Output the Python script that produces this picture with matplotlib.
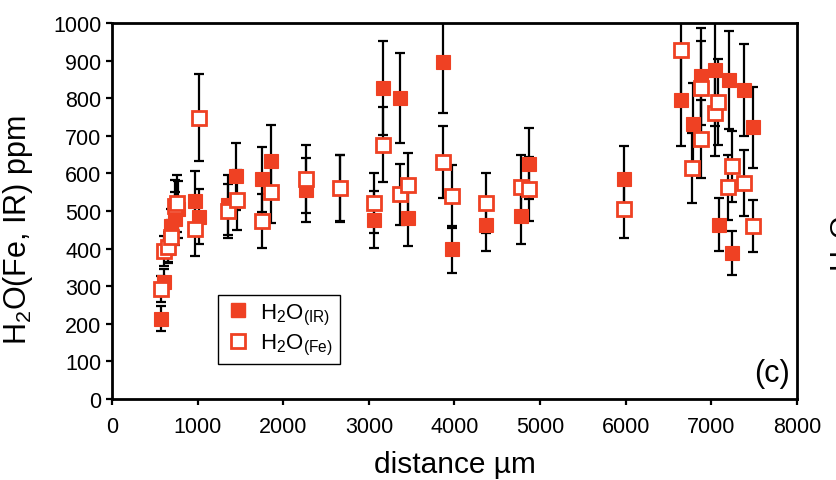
import matplotlib
matplotlib.use('Agg')
import matplotlib.pyplot as plt
from matplotlib.lines import Line2D

plt.rcParams['font.family'] = ['Liberation Sans', 'DejaVu Sans']
plt.rcParams['mathtext.default'] = 'regular'

# H2O(IR) - filled squares
ir_x = [570, 610, 650, 690, 735, 770, 975, 1015, 1355, 1450, 1755, 1855, 2265, 2665,
        3065, 3165, 3365, 3460, 3865, 3967, 4368, 4773, 4874, 5980, 6642, 6782, 6879,
        7042, 7085, 7202, 7241, 7381, 7482]
ir_y = [214, 311, 402, 460, 480, 504, 526, 485, 517, 592, 584, 633, 555, 562,
        477, 826, 800, 482, 895, 398, 464, 486, 626, 584, 796, 731, 858,
        875, 464, 849, 389, 822, 723]
ir_err = [33, 35, 40, 45, 70, 75, 80, 73, 80, 90, 86, 95, 85, 88,
          75, 125, 120, 75, 135, 62, 70, 75, 95, 88, 122, 110, 130,
          150, 70, 130, 59, 123, 108]

# H2O(Fe) - open squares
fe_x = [570, 605, 650, 690, 735, 760, 970, 1015, 1355, 1455, 1755, 1855, 2265, 2665,
        3065, 3165, 3365, 3460, 3865, 3967, 4368, 4773, 4874, 5980, 6642, 6777, 6879,
        6879, 7042, 7081, 7198, 7237, 7385, 7482]
fe_y = [292, 394, 405, 430, 513, 520, 451, 748, 499, 530, 473, 551, 586, 560,
        522, 676, 544, 569, 630, 539, 521, 564, 559, 504, 928, 614, 827,
        691, 760, 790, 563, 619, 575, 460]
fe_err = [35, 40, 40, 45, 70, 75, 70, 116, 72, 80, 72, 82, 90, 88,
          80, 100, 82, 85, 95, 83, 80, 85, 85, 76, 140, 93, 126,
          103, 113, 115, 86, 95, 87, 68]

x_ticks = [0, 1000, 2000, 3000, 4000, 5000, 6000, 7000, 8000]
y_ticks = [0, 100, 200, 300, 400, 500, 600, 700, 800, 900, 1000]

RED = '#EF4123'

fig = plt.figure(figsize=(8.37, 4.81), dpi=100)
ax = fig.add_axes([112/837, 81/481, 685/837, 376/481])

eb_kw = dict(fmt='none', ecolor='black', elinewidth=1.6, capsize=3.8, capthick=1.6, zorder=2)
ax.errorbar(ir_x, ir_y, yerr=ir_err, **eb_kw)
ax.errorbar(fe_x, fe_y, yerr=fe_err, **eb_kw)

ax.plot(ir_x, ir_y, linestyle='none', marker='s', markersize=10,
        markerfacecolor=RED, markeredgecolor=RED, markeredgewidth=0.8, zorder=3)
ax.plot(fe_x, fe_y, linestyle='none', marker='s', markersize=10.5,
        markerfacecolor='white', markeredgecolor=RED, markeredgewidth=2.0, zorder=4)

ax.set_xlim(0, 8000)
ax.set_ylim(0, 1000)
ax.set_xticks(x_ticks)
ax.set_yticks(y_ticks)
ax.set_xticklabels([str(t) for t in x_ticks])
ax.set_yticklabels([str(t) for t in y_ticks])
ax.tick_params(direction='out', length=4.5, width=1.6, labelsize=15.5, pad=3)
ax.tick_params(axis='x', pad=8)
for s in ax.spines.values():
    s.set_linewidth(2.0)

ax.set_xlabel('distance µm', fontsize=21.5, labelpad=9)
ax.set_ylabel('H$_2$O(Fe, IR) ppm', fontsize=22)
ax.yaxis.set_label_coords(-0.113, 0.452)

handles = [
    Line2D([], [], linestyle='none', marker='s', markersize=10,
           markerfacecolor=RED, markeredgecolor=RED),
    Line2D([], [], linestyle='none', marker='s', markersize=10.5,
           markerfacecolor='white', markeredgecolor=RED, markeredgewidth=2.0),
]
labels = ['H$_2$O$_{(IR)}$', 'H$_2$O$_{(Fe)}$']
leg = ax.legend(handles, labels, loc='lower left', bbox_to_anchor=(0.155, 0.093),
                fontsize=16, frameon=True, fancybox=False, framealpha=1,
                edgecolor='black', borderpad=0.3, handletextpad=0.4,
                labelspacing=0.25, handlelength=1.2, borderaxespad=0)
leg.get_frame().set_linewidth(1.0)

ax.text(0.99, 0.069, '(c)', transform=ax.transAxes, ha='right', va='center', fontsize=22)

fig.text(829/837, (481-272)/481, 'H$_2$O', rotation=90, ha='left', va='bottom', fontsize=21)

fig.savefig('out.png', dpi=100)
